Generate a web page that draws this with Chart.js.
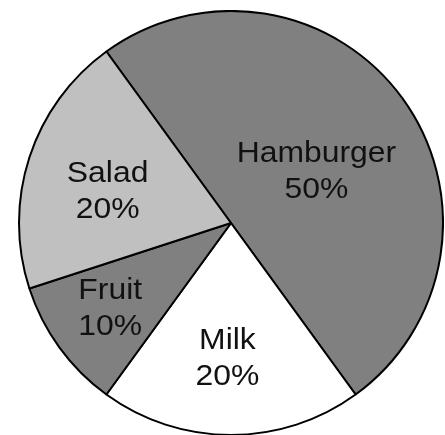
<!DOCTYPE html>
<html>
<head>
<meta charset="utf-8">
<script src="https://cdn.jsdelivr.net/npm/chart.js@4/dist/chart.umd.min.js"></script>
<style>
  html, body { margin: 0; padding: 0; background: #fff; overflow: hidden; }
  body { width: 445px; height: 435px; position: relative; }
  #pie { position: absolute; left: 18px; top: 10px; }
</style>
</head>
<body>
<canvas id="pie" width="426" height="426"></canvas>
<script>
// === Data ===
const labels = ['Hamburger', 'Milk', 'Fruit', 'Salad'];
const shares = [50, 20, 10, 20];
const fills = ['#808080', '#ffffff', '#808080', '#c0c0c0'];

// === Labels inside slices (name + percent) ===
const sliceLabels = {
  id: 'sliceLabels',
  afterDatasetsDraw(chart, args, opts) {
    const ctx = chart.ctx;
    const meta = chart.getDatasetMeta(0);
    meta.data.forEach((arc, i) => {
      const p = arc.getProps(['x', 'y', 'startAngle', 'endAngle', 'outerRadius'], true);
      const mid = (p.startAngle + p.endAngle) / 2 + (opts.angleShift[i] || 0) * Math.PI / 180;
      const r = p.outerRadius * opts.radial[i];
      const cx = p.x + Math.cos(mid) * r;
      const cy = p.y + Math.sin(mid) * r;
      ctx.save();
      ctx.translate(cx, cy);
      ctx.scale(opts.stretch, 1);  // letters in the original are a bit wide
      ctx.font = opts.font;
      ctx.fillStyle = '#111';
      ctx.textAlign = 'center';
      ctx.textBaseline = 'middle';
      ctx.fillText(labels[i], 0, -opts.lineGap / 2);
      ctx.fillText(shares[i] + '%', 0, opts.lineGap / 2);
      ctx.restore();
    });
  }
};

new Chart(document.getElementById('pie').getContext('2d'), {
  type: 'pie',
  data: {
    labels,
    datasets: [{
      data: shares,
      backgroundColor: fills,
      borderColor: '#000',
      borderWidth: 2,
      hoverOffset: 0
    }]
  },
  options: {
    responsive: false,
    animation: false,
    devicePixelRatio: 1,
    rotation: -36,
    layout: { padding: 0 },
    events: [],
    plugins: {
      legend: { display: false },
      tooltip: { enabled: false },
      sliceLabels: {
        font: '29px "Liberation Sans", Arial, sans-serif',
        stretch: 1.1,
        lineGap: 36,
        radial: [0.47, 0.64, 0.70, 0.60],
        angleShift: [5, 1.5, 0.5, -4]
      }
    }
  },
  plugins: [sliceLabels]
});
</script>
</body>
</html>
